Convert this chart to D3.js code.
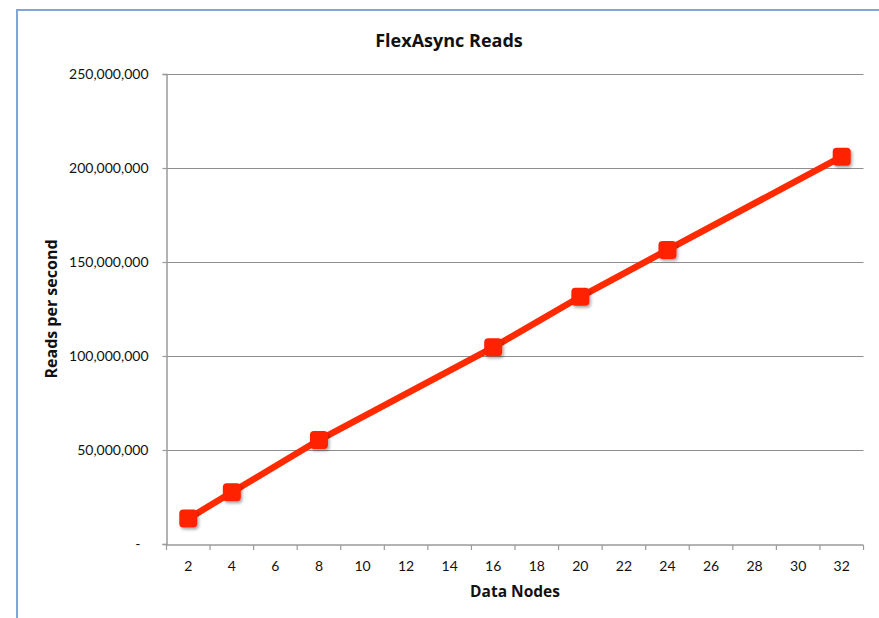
<!DOCTYPE html>
<html>
<head>
<meta charset="utf-8">
<script src="https://cdn.jsdelivr.net/npm/d3@7"></script>
<style>
  html, body { margin: 0; padding: 0; background: #fff; }
  svg { display: block; }
  text { font-family: Lato, "Open Sans", "Liberation Sans", sans-serif; fill: #111; }
  text.ttl { font-family: "Open Sans", Lato, sans-serif; font-weight: bold; }
</style>
</head>
<body>
<svg id="chart" width="879" height="618"></svg>
<script>
// Category labels along the x axis (number of data nodes)
const nodeCategories = ["2","4","6","8","10","12","14","16","18","20","22","24","26","28","30","32"];
// Measured node counts and their read throughput
const measuredNodes = ["2","4","8","16","20","24","32"];
const readsPerSecond = [13500000, 27500000, 55300000, 104600000, 131500000, 156400000, 206000000];
// Y axis tick values
const yTicks = [0, 50000000, 100000000, 150000000, 200000000, 250000000];

const svg = d3.select("#chart");
const W = 879, H = 618;
const plot = { left: 166.5, right: 863.5, top: 74, bottom: 544 };

// Frame around the chart area
svg.append("path")
  .attr("d", `M17,${H} L17,10 L${W},10`)
  .attr("fill", "none")
  .attr("stroke", "#7fa6d6")
  .attr("stroke-width", 2);

const x = d3.scaleBand().domain(nodeCategories).range([plot.left, plot.right]);
const y = d3.scaleLinear().domain([0, 250000000]).range([plot.bottom, plot.top]);

// Horizontal gridlines
svg.append("g")
  .selectAll("line")
  .data(yTicks.filter(d => d > 0))
  .join("line")
  .attr("x1", plot.left).attr("x2", plot.right)
  .attr("y1", d => Math.round(y(d)) + 0.5).attr("y2", d => Math.round(y(d)) + 0.5)
  .attr("stroke", "#8e8e8e").attr("stroke-width", 1);

// Y axis
const fmt = d3.format(",");
const yAxis = svg.append("g")
  .attr("transform", `translate(${plot.left},0)`)
  .call(d3.axisLeft(y).tickValues(yTicks).tickSize(4).tickPadding(14)
    .tickFormat(d => d === 0 ? "-" : fmt(d)));
yAxis.select(".domain").attr("stroke", "#9a9a9a").attr("stroke-width", 1.5);
yAxis.selectAll(".tick line").attr("stroke", "#9a9a9a").attr("stroke-width", 1.2);
yAxis.selectAll(".tick text").style("font-size", "14px").attr("fill", "#222");
yAxis.selectAll(".tick text").filter(d => d === 0).attr("dx", -8);

// X axis with ticks on category boundaries
const xAxisG = svg.append("g").attr("transform", `translate(0,${plot.bottom + 1})`);
xAxisG.append("line")
  .attr("x1", plot.left).attr("x2", plot.right)
  .attr("stroke", "#9a9a9a").attr("stroke-width", 1.5);
const boundaries = nodeCategories.map(c => x(c)).concat([plot.right]);
xAxisG.selectAll("line.tk")
  .data(boundaries)
  .join("line").attr("class", "tk")
  .attr("x1", d => d).attr("x2", d => d)
  .attr("y1", 0).attr("y2", 5)
  .attr("stroke", "#9a9a9a").attr("stroke-width", 1.2);
xAxisG.selectAll("text")
  .data(nodeCategories)
  .join("text")
  .attr("x", d => x(d) + x.bandwidth() / 2)
  .attr("y", 26)
  .attr("text-anchor", "middle")
  .style("font-size", "14px")
  .attr("fill", "#222")
  .text(d => d);

// Titles
svg.append("text").attr("class", "ttl")
  .attr("x", 449).attr("y", 47)
  .attr("text-anchor", "middle")
  .style("font-size", "18px")
  .text("FlexAsync Reads");

svg.append("text").attr("class", "ttl")
  .attr("x", (plot.left + plot.right) / 2).attr("y", 597)
  .attr("text-anchor", "middle")
  .style("font-size", "15.5px")
  .text("Data Nodes");

svg.append("text").attr("class", "ttl")
  .attr("transform", `translate(57,${(plot.top + plot.bottom) / 2}) rotate(-90)`)
  .attr("text-anchor", "middle")
  .style("font-size", "16px")
  .text("Reads per second");

// Series data
const series = measuredNodes.map((n, i) => ({ n, v: readsPerSecond[i] }));
const cx = d => x(d.n) + x.bandwidth() / 2;

const defs = svg.append("defs");
const shadow = defs.append("filter").attr("id", "shadow")
  .attr("x", "-50%").attr("y", "-50%").attr("width", "200%").attr("height", "200%");
shadow.append("feDropShadow")
  .attr("dx", 1.5).attr("dy", 2).attr("stdDeviation", 1.5)
  .attr("flood-color", "#000").attr("flood-opacity", 0.35);

svg.append("path")
  .datum(series)
  .attr("fill", "none")
  .attr("stroke", "#ff2a00")
  .attr("stroke-width", 6.5)
  .attr("stroke-linejoin", "round")
  .attr("d", d3.line().x(cx).y(d => y(d.v)));

const ms = 18;
svg.append("g")
  .selectAll("rect")
  .data(series)
  .join("rect")
  .attr("x", d => cx(d) - ms / 2)
  .attr("y", d => y(d.v) - ms / 2)
  .attr("width", ms).attr("height", ms)
  .attr("rx", 4).attr("ry", 4)
  .attr("fill", "#ff2400")
  .attr("filter", "url(#shadow)");
</script>
</body>
</html>
